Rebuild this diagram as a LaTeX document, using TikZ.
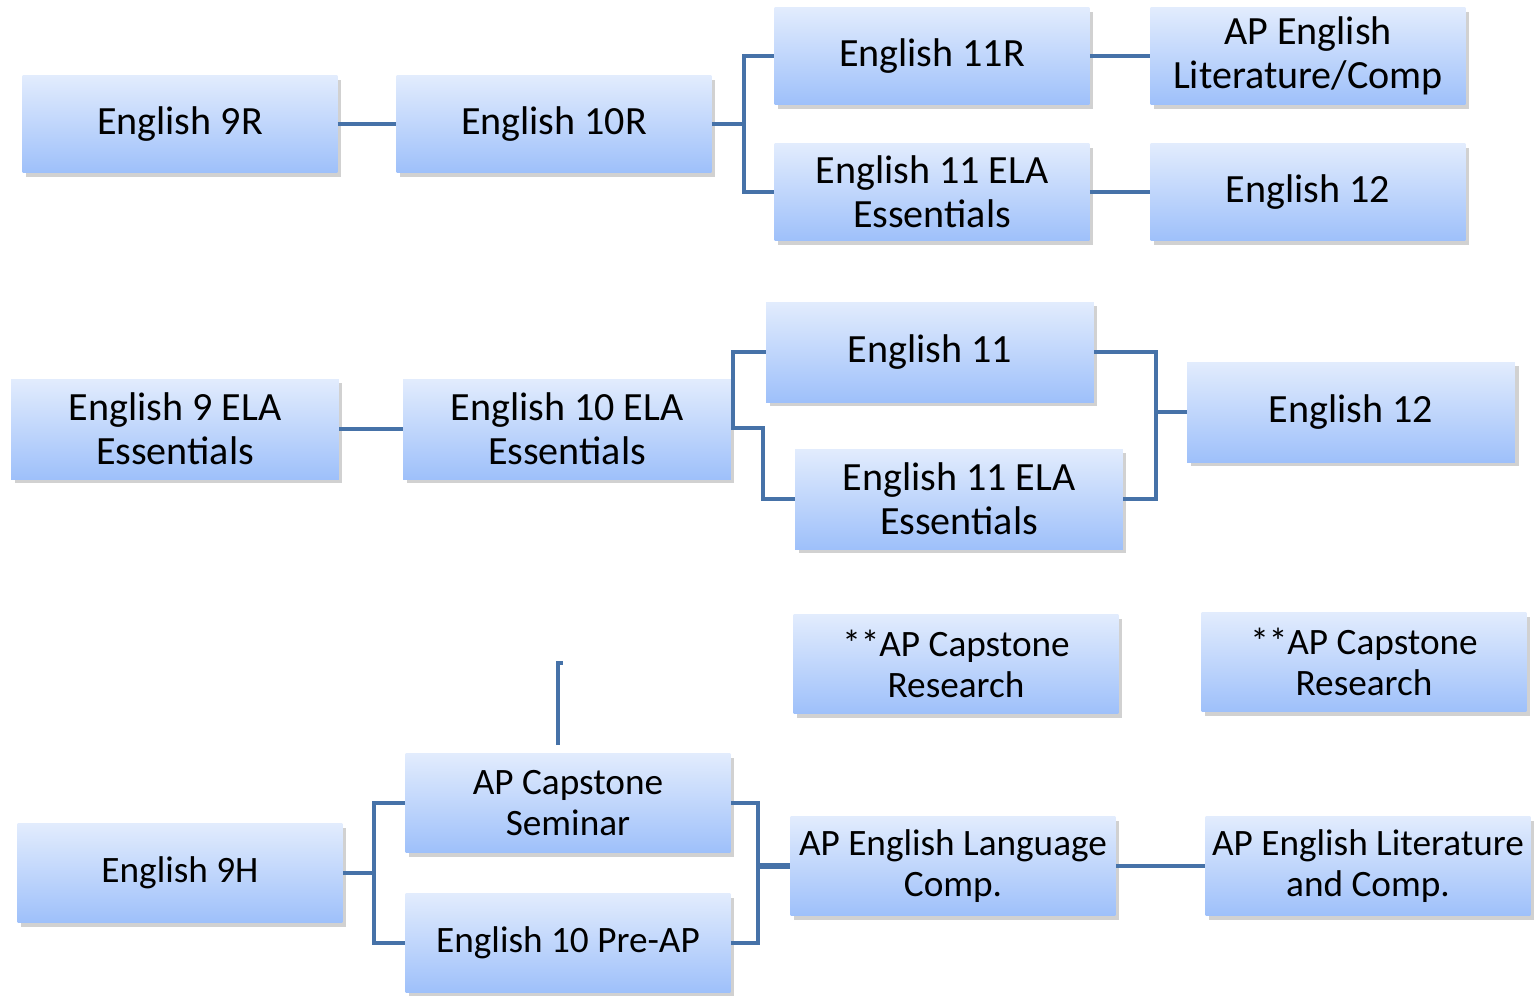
\documentclass[tikz,border=0pt]{standalone}
\usepackage{fontspec}
\setmainfont{Carlito}
\usetikzlibrary{shadows}
\definecolor{boxtop}{RGB}{226,236,253}
\definecolor{boxbot}{RGB}{158,192,250}
\definecolor{linkc}{RGB}{70,114,168}
\tikzset{
  course/.style={rectangle, inner sep=0pt, align=center, top color=boxtop, bottom color=boxbot,
    drop shadow={shadow xshift=2pt, shadow yshift=-2.5pt, opacity=0.3, fill=black!60},
    font=\fontsize{22.8}{25}\selectfont},
  rowa/.style={course, minimum width=6.3cm, minimum height=1.94cm},
  rowb/.style={course, minimum width=6.56cm, minimum height=2.0cm},
  rowc/.style={course, minimum width=6.5cm, minimum height=1.98cm, font=\fontsize{21.2}{23.3}\selectfont},
  link/.style={draw=linkc, line width=0.09cm, line join=miter}
}
\begin{document}
\begin{tikzpicture}[x=0.02cm, y=-0.02cm]
\useasboundingbox (0,0) rectangle (1537,995);
% Row 1
\node[rowa] (e9r) at (180,124) {English 9R};
\node[rowa] (e10r) at (554,124) {English 10R};
\node[rowa] (e11r) at (932,56) {English 11R};
\node[rowa] (aplit1) at (1308,56) {AP English\\Literature/Comp};
\node[rowa] (e11ela1) at (932,192) {English 11 ELA\\Essentials};
\node[rowa] (e12a) at (1308,192) {English 12};
\draw[link] (e9r) -- (e10r);
\draw[link] (e10r.east) -- ++(32,0) coordinate (j1) |- (e11r.west);
\draw[link] (j1) |- (e11ela1.west);
\draw[link] (e11r) -- (aplit1);
\draw[link] (e11ela1) -- (e12a);
% Row 2
\node[rowb] (e9ela) at (175,429) {English 9 ELA\\Essentials};
\node[rowb] (e10ela) at (567,429) {English 10 ELA\\Essentials};
\node[rowb] (e11) at (930,352) {English 11};
\node[rowb] (e11ela2) at (959,499) {English 11 ELA\\Essentials};
\node[rowb] (e12b) at (1351,412) {English 12};
\draw[link] (e9ela) -- (e10ela);
\draw[link] (e11.west) -- (733,352) -- (733,428) -- (763,428) |- (e11ela2.west);
\draw[link] (e11.east) -- (1156,352) coordinate (j2) |- (e11ela2.east);
\draw[link] (j2 |- e12b.west) -- (e12b.west);
% Row 3
\node[rowc] (cap1) at (956,664) {**AP Capstone\\Research};
\node[rowc] (cap2) at (1364,662) {**AP Capstone\\Research};
\node[rowc] (sem) at (568,803) {AP Capstone\\Seminar};
\node[rowc] (e9h) at (180,873) {English 9H};
\node[rowc] (preap) at (568,943) {English 10 Pre-AP};
\node[rowc] (aplang) at (953,866) {AP English Language\\Comp.};
\node[rowc] (aplit2) at (1368,866) {AP English Literature\\and Comp.};
\coordinate (fl1) at (558,745);
\coordinate (fl2) at (558,663);
\coordinate (fl3) at (563,663);
\draw[link] (fl1) -- (fl2) -- (fl3);
\draw[link] (e9h.east) -- ++(31,0) coordinate (j3) |- (sem.west);
\draw[link] (j3) |- (preap.west);
\draw[link] (sem.east) -| (758,866) coordinate (j4);
\draw[link] (preap.east) -| (j4);
\draw[link, line width=0.12cm] (j4) -- (aplang.west);
\draw[link] (aplang) -- (aplit2);
\end{tikzpicture}
\end{document}
